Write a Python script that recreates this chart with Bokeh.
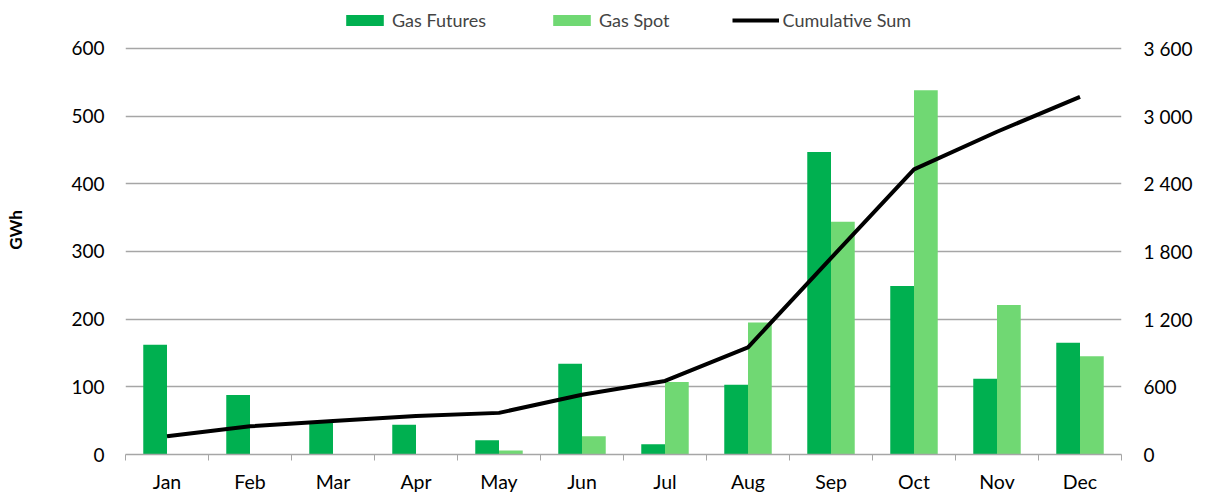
from bokeh.plotting import figure
from bokeh.models import (Range1d, LinearAxis, FixedTicker, Legend, LegendItem,
                          ColumnDataSource)
from bokeh.transform import dodge
from bokeh.embed import file_html
from bokeh.resources import INLINE

months = ["Jan", "Feb", "Mar", "Apr", "May", "Jun", "Jul", "Aug", "Sep", "Oct", "Nov", "Dec"]
gas_futures = [162, 88, 48, 44, 21, 134, 15, 103, 447, 249, 112, 165]
gas_spot = [0, 0, 0, 0, 6, 27, 107, 195, 344, 538, 221, 145]
cumulative_sum = [162, 250, 298, 342, 369, 530, 652, 950, 1741, 2528, 2861, 3171]
left_ticks = [0, 100, 200, 300, 400, 500, 600]
right_ticks = [0, 600, 1200, 1800, 2400, 3000, 3600]
right_tick_labels = ["0", "600", "1 200", "1 800", "2 400", "3 000", "3 600"]

FONT = "Lato"
GRID = "#a6a6a6"

# frame extends above the 600 gridline so the legend can sit inside it
TOP_PAD = 450 / 407  # frame height / height of 0..600 band (pixels)
left_max = 600 * TOP_PAD
right_max = 3600 * TOP_PAD

src = ColumnDataSource(dict(x=list(range(len(months))), fut=gas_futures,
                            spot=gas_spot, cum=cumulative_sum))

p = figure(width=1207, height=495, output_backend="svg", toolbar_location=None,
           x_range=Range1d(-0.5, len(months) - 0.5), y_range=Range1d(0, left_max),
           min_border_left=125, min_border_right=86, min_border_top=5,
           min_border_bottom=40)
p.outline_line_color = None
p.background_fill_color = "white"
p.extra_y_ranges = {"cum": Range1d(0, right_max)}

bw = 0.286
r_fut = p.vbar(x=dodge("x", -bw / 2), top="fut", width=bw, source=src,
               fill_color="#00B050", line_color=None)
r_spot = p.vbar(x=dodge("x", bw / 2), top="spot", width=bw, source=src,
                fill_color="#70D873", line_color=None)
r_cum = p.line(x="x", y="cum", source=src, y_range_name="cum",
               line_color="black", line_width=4, line_join="round")

# x axis
xa = p.xaxis[0]
xa.ticker = FixedTicker(ticks=list(range(len(months))),
                        minor_ticks=[i - 0.5 for i in range(len(months) + 1)])
xa.major_label_overrides = {i: m for i, m in enumerate(months)}
xa.major_tick_out = 0
xa.major_tick_in = 0
xa.minor_tick_out = 6
xa.minor_tick_in = 0
xa.minor_tick_line_color = GRID
xa.axis_line_color = GRID
xa.axis_line_width = 1.5
xa.major_label_standoff = 9
xa.major_label_text_font = FONT
xa.major_label_text_font_size = "19.5px"
xa.major_label_text_color = "black"
p.xgrid.visible = False

# left axis
ya = p.yaxis[0]
ya.ticker = FixedTicker(ticks=left_ticks)
ya.axis_line_color = None
ya.major_tick_out = 0
ya.major_tick_in = 0
ya.minor_tick_out = 0
ya.minor_tick_in = 0
ya.major_label_standoff = 21
ya.major_label_text_font = FONT
ya.major_label_text_font_size = "19px"
ya.major_label_text_color = "black"
ya.axis_label = "GWh"
ya.axis_label_text_font = FONT
ya.axis_label_text_font_style = "bold"
ya.axis_label_text_font_size = "17px"
ya.axis_label_text_color = "black"
ya.axis_label_standoff = 42
p.ygrid.ticker = FixedTicker(ticks=left_ticks)
p.ygrid.grid_line_color = GRID
p.ygrid.grid_line_width = 1.5

# right axis
ra = LinearAxis(y_range_name="cum", ticker=FixedTicker(ticks=right_ticks))
ra.major_label_overrides = {t: l for t, l in zip(right_ticks, right_tick_labels)}
ra.axis_line_color = None
ra.major_tick_out = 0
ra.major_tick_in = 0
ra.minor_tick_out = 0
ra.minor_tick_in = 0
ra.major_label_standoff = 22
ra.major_label_text_font = FONT
ra.major_label_text_font_size = "19px"
ra.major_label_text_color = "black"
p.add_layout(ra, "right")

legend = Legend(items=[LegendItem(label="Gas Futures", renderers=[r_fut]),
                       LegendItem(label="Gas Spot", renderers=[r_spot]),
                       LegendItem(label="Cumulative Sum", renderers=[r_cum])],
                orientation="horizontal", location=(216, 423),
                border_line_color=None, background_fill_alpha=0,
                padding=0, margin=0, spacing=62, glyph_width=47, glyph_height=14,
                label_standoff=4, label_text_font=FONT,
                label_text_font_size="18px", label_height=12)
p.add_layout(legend, "center")

open("out.html", "w").write(file_html(p, INLINE))
